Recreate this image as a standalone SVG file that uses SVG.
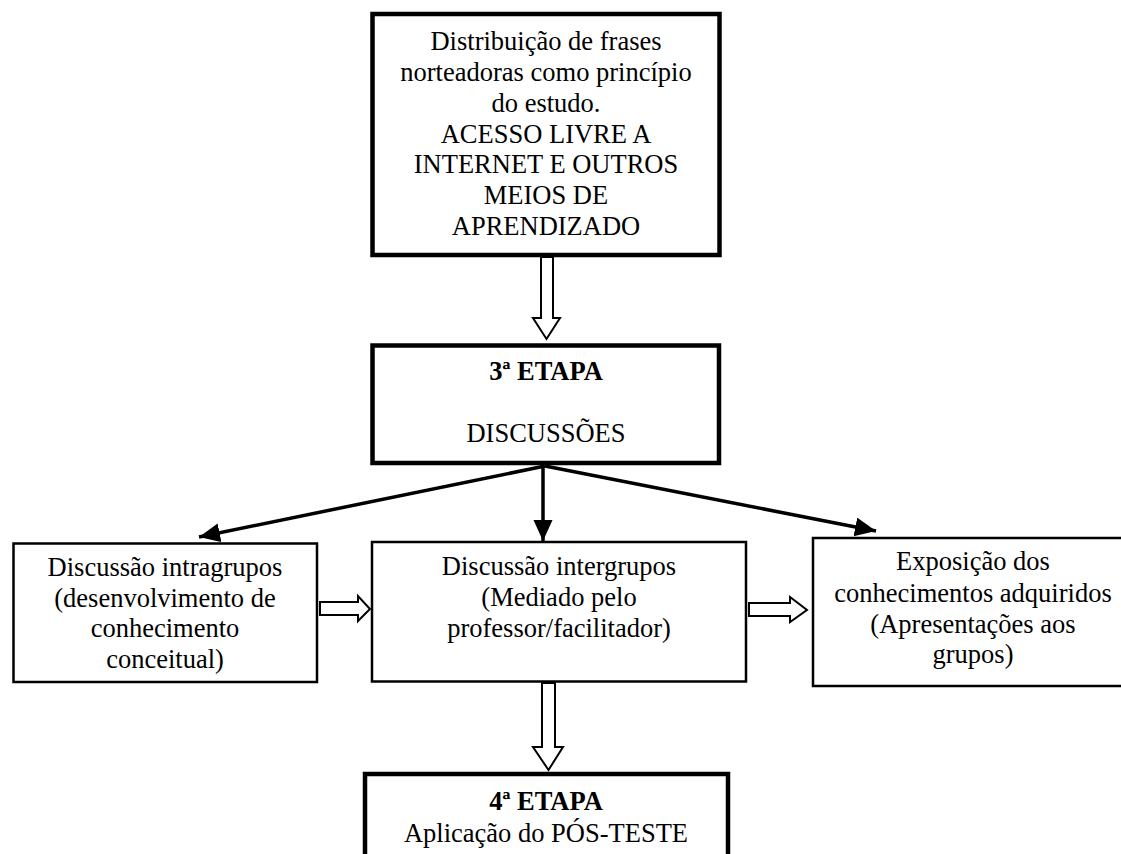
<svg xmlns="http://www.w3.org/2000/svg" width="1121" height="854" viewBox="0 0 1121 854">
  <defs>
    <style>
      .t { font-family: "Liberation Serif", "Times New Roman", serif; font-size: 26.5px; fill: #000; text-anchor: middle; }
      .b { font-weight: bold; }
      .thick { fill: #fff; stroke: #000; stroke-width: 4.5; }
      .thin { fill: #fff; stroke: #000; stroke-width: 2.5; }
      .hollow { fill: #fff; stroke: #000; stroke-width: 2; stroke-linejoin: miter; }
      .solid { fill: none; stroke: #000; stroke-width: 3.5; }
    </style>
    <marker id="ah" markerUnits="userSpaceOnUse" markerWidth="24" markerHeight="20" refX="21" refY="9.5" orient="auto">
      <path d="M0,0 L21,9.5 L0,19 z" fill="#000"/>
    </marker>
  </defs>
  <rect width="1121" height="854" fill="#fff"/>

  <g id="connectors">
    <polygon class="hollow" points="541,257 553,257 553,318 560,318 546.5,339 533,318 541,318"/>
    <line class="solid" x1="545" y1="466" x2="199" y2="537" marker-end="url(#ah)"/>
    <line class="solid" x1="543" y1="466" x2="543" y2="541" marker-end="url(#ah)"/>
    <line class="solid" x1="545" y1="466" x2="876" y2="531" marker-end="url(#ah)"/>
    <polygon class="hollow" points="320,602 358,602 358,596 370,609 358,621 358,615 320,615"/>
    <polygon class="hollow" points="749,603 790,603 790,597 807,610 790,622 790,616 749,616"/>
    <polygon class="hollow" points="542,683 555,683 555,747 563,747 548.5,770 533,747 542,747"/>
  </g>

  <g id="node-top">
    <rect class="thick" x="372.5" y="14" width="347" height="241"/>
    <text class="t" x="546" y="50">Distribuição de frases</text>
    <text class="t" x="546" y="81">norteadoras como princípio</text>
    <text class="t" x="546" y="111.5">do estudo.</text>
    <text class="t" x="546" y="142.5">ACESSO LIVRE A</text>
    <text class="t" x="546" y="173">INTERNET E OUTROS</text>
    <text class="t" x="546" y="204">MEIOS DE</text>
    <text class="t" x="546" y="235">APRENDIZADO</text>
  </g>

  <g id="node-etapa3">
    <rect class="thick" x="372.5" y="345.5" width="346.5" height="117.5"/>
    <text class="t b" x="546" y="380">3ª ETAPA</text>
    <text class="t" x="546" y="442">DISCUSSÕES</text>
  </g>

  <g id="node-intragrupos">
    <rect class="thin" x="13.5" y="543.5" width="303.5" height="138.5"/>
    <text class="t" x="165" y="576">Discussão intragrupos</text>
    <text class="t" x="165" y="607">(desenvolvimento de</text>
    <text class="t" x="165" y="637">conhecimento</text>
    <text class="t" x="165" y="668">conceitual)</text>
  </g>

  <g id="node-intergrupos">
    <rect class="thin" x="372" y="542" width="374" height="139.5"/>
    <text class="t" x="559" y="575">Discussão intergrupos</text>
    <text class="t" x="559" y="606">(Mediado pelo</text>
    <text class="t" x="559" y="637">professor/facilitador)</text>
  </g>

  <g id="node-exposicao">
    <rect class="thin" x="813" y="538" width="330" height="148"/>
    <text class="t" x="973" y="570">Exposição dos</text>
    <text class="t" x="973" y="602">conhecimentos adquiridos</text>
    <text class="t" x="973" y="633">(Apresentações aos</text>
    <text class="t" x="973" y="663">grupos)</text>
  </g>

  <g id="node-etapa4">
    <rect class="thick" x="365" y="774" width="363" height="100"/>
    <text class="t b" x="546" y="810">4ª ETAPA</text>
    <text class="t" x="546" y="842">Aplicação do PÓS-TESTE</text>
  </g>
</svg>
